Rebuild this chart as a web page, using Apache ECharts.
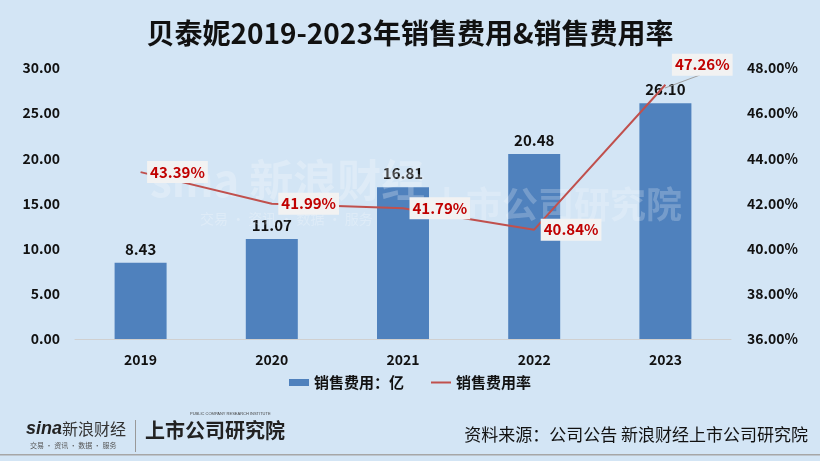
<!DOCTYPE html>
<html><head><meta charset="utf-8">
<script src="https://cdn.jsdelivr.net/npm/echarts@6/dist/echarts.min.js"></script>
<style>html,body{margin:0;padding:0;background:#D3E5F5;}#c{width:820px;height:461px;}</style>
</head><body><div id="c"></div>
<script>
var categories = ['2019','2020','2021','2022','2023'];
var salesExpense = [8.43, 11.07, 16.81, 20.48, 26.10];
var expenseRate = [43.39, 41.99, 41.79, 40.84, 47.26];
var leftTicks = [0, 5, 10, 15, 20, 25, 30];
var rightTicks = [36, 38, 40, 42, 44, 46, 48];

var font = '"Microsoft YaHei","Noto Sans CJK SC",sans-serif';
var chart = echarts.init(document.getElementById('c'));
chart.setOption({
  backgroundColor: '#D3E5F5',
  animation: false,
  title: {
    text: '贝泰妮2019-2023年销售费用&销售费用率',
    left: 'center', top: 14,
    textStyle: {fontFamily: font, fontSize: 28, fontWeight: 'bold', color: '#111'}
  },
  legend: {
    bottom: 66, left: 'center', itemGap: 26, itemWidth: 20, itemHeight: 7,
    textStyle: {fontFamily: font, fontSize: 15, fontWeight: 'bold', color: '#111'},
    data: [{name: '销售费用：亿', icon: 'rect'}, {name: '销售费用率', itemStyle: {opacity: 0}}]
  },
  grid: {left: 75, right: 89, top: 68, bottom: 122},
  xAxis: {
    type: 'category', data: categories,
    axisLine: {lineStyle: {color: '#D0D0D0'}}, axisTick: {show: false},
    axisLabel: {fontFamily: font, fontSize: 14, fontWeight: 'bold', color: '#111', margin: 14}
  },
  yAxis: [{
    type: 'value', min: leftTicks[0], max: leftTicks[leftTicks.length-1], interval: 5,
    splitLine: {show: false},
    axisLabel: {fontFamily: font, fontSize: 14, fontWeight: 'bold', color: '#111', margin: 15,
      formatter: function(v){return v.toFixed(2);}}
  }, {
    type: 'value', min: rightTicks[0], max: rightTicks[rightTicks.length-1], interval: 2,
    splitLine: {show: false},
    axisLabel: {fontFamily: font, fontSize: 14, fontWeight: 'bold', color: '#111', margin: 16,
      formatter: function(v){return v.toFixed(2) + '%';}}
  }],
  series: [{
    name: '销售费用：亿', type: 'bar', data: salesExpense, barWidth: 52, z: 2,
    itemStyle: {color: '#4F81BD'},
    label: {show: true, position: 'top', distance: 6, fontFamily: font, fontSize: 15, fontWeight: 'bold', color: '#111',
      formatter: function(p){return p.value.toFixed(2);}}
  }, {
    name: '销售费用率', type: 'line', yAxisIndex: 1, data: expenseRate,
    symbol: 'none', lineStyle: {color: '#C0504D', width: 2}, itemStyle: {color: '#C0504D'},
    z: 5
  }, {
    name: 'rateLabels', type: 'scatter', yAxisIndex: 1, symbolSize: 1, z: 10, zlevel: 1,
    itemStyle: {color: 'rgba(0,0,0,0)'},
    data: expenseRate.map(function(v, i){
      var d = {value: v};
      if (i === 4) d.label = {offset: [0, -20]};
      return d;
    }),
    label: {show: true, position: 'right', distance: 6, fontFamily: font, fontSize: 15, fontWeight: 'bold',
      color: '#C00000', backgroundColor: '#F2F2F2', padding: [4, 3, 3, 3], opacity: 1,
      formatter: function(p){return p.value.toFixed(2) + '%';}}
  }],
  graphic: [
    {type: 'group', z: 3, children: [
      {type: 'text', left: 150, top: 158, z: 3, style: {text: 'sina 新浪财经', fontFamily: font, fontSize: 44, fontWeight: 'bold', fill: 'rgba(255,255,255,0.25)'}},
      {type: 'text', left: 200, top: 212, z: 3, style: {text: '交易 · 资讯 · 数据 · 服务', fontFamily: font, fontSize: 14, fill: 'rgba(255,255,255,0.25)'}},
      {type: 'text', left: 430, top: 186, z: 3, style: {text: '上市公司研究院', fontFamily: font, fontSize: 36, fontWeight: 'bold', fill: 'rgba(255,255,255,0.22)'}}
    ]},
    {type: 'line', shape: {x1: 665, y1: 88, x2: 700, y2: 75}, style: {stroke: '#A0A0A0', lineWidth: 1}, z: 4},
    {type: 'text', left: 26, top: 420, style: {text: 'sina', fontFamily: 'Arial', fontSize: 18, fontWeight: 'bold', fontStyle: 'italic', fill: '#222'}},
    {type: 'text', left: 62, top: 421, style: {text: '新浪财经', fontFamily: font, fontSize: 16, fill: '#333'}},
    {type: 'text', left: 30, top: 442, style: {text: '交易 · 资讯 · 数据 · 服务', fontFamily: font, fontSize: 7, fill: '#555'}},
    {type: 'rect', shape: {x: 135, y: 420, width: 1, height: 32}, style: {fill: '#999'}},
    {type: 'text', left: 145, top: 420, style: {text: '上市公司研究院', fontFamily: font, fontSize: 20, fontWeight: 'bold', fill: '#222'}},
    {type: 'text', left: 190, top: 412, style: {text: 'PUBLIC COMPANY RESEARCH INSTITUTE', fontFamily: 'Arial', fontSize: 4, fill: '#444'}},
    {type: 'text', right: 12, top: 426, style: {text: '资料来源：公司公告 新浪财经上市公司研究院', fontFamily: font, fontSize: 17, fill: '#111'}},
    {type: 'rect', shape: {x: 0, y: 454, width: 820, height: 1.5}, style: {fill: '#A6A6A6'}}
  ]
});
</script></body></html>
